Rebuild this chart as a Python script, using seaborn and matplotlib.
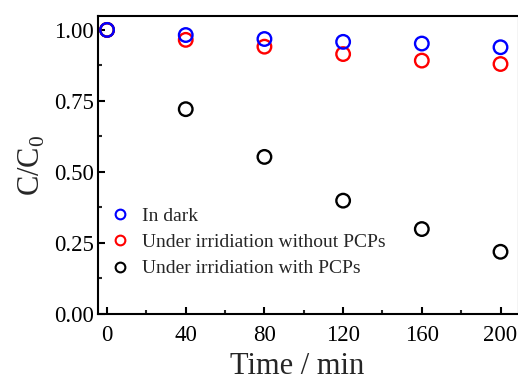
import matplotlib
matplotlib.use("Agg")
import matplotlib.pyplot as plt
import seaborn as sns
import pandas as pd
from matplotlib.ticker import MultipleLocator
from matplotlib.lines import Line2D

time = [0, 40, 80, 120, 160, 200]
dark = [1.00, 0.982, 0.968, 0.958, 0.952, 0.939]
irr_without = [1.00, 0.965, 0.941, 0.915, 0.892, 0.880]
irr_with = [1.00, 0.721, 0.553, 0.399, 0.299, 0.219]
labels = ["In dark", "Under irridiation without PCPs", "Under irridiation with PCPs"]
colors = ["#0000ff", "#ff0000", "#000000"]

df = pd.concat([
    pd.DataFrame({"t": time, "c": irr_with, "s": labels[2]}),
    pd.DataFrame({"t": time, "c": irr_without, "s": labels[1]}),
    pd.DataFrame({"t": time, "c": dark, "s": labels[0]}),
])

sns.set_style("ticks")
plt.rcParams['font.family'] = ['Liberation Serif', 'DejaVu Serif']
plt.rcParams['mathtext.fontset'] = 'custom'
plt.rcParams['mathtext.rm'] = 'Liberation Serif'

fig = plt.figure(figsize=(5.18, 3.81), dpi=100)
ax = fig.add_axes([98/518, 1-314/381, (519-98)/518, (314-16)/381])

sns.scatterplot(data=df, x="t", y="c", hue="s", hue_order=labels[::-1],
                palette=dict(zip(labels, colors)), ax=ax, s=95,
                marker="o", linewidth=1.7, legend=False)
for coll in ax.collections:
    ec = coll.get_facecolors()
    coll.set_edgecolors(ec)
    coll.set_facecolors("none")

ax.set_xlim(-4.6, 209.4)
ax.set_ylim(0, 1.049)
ax.xaxis.set_major_locator(MultipleLocator(40))
ax.xaxis.set_minor_locator(MultipleLocator(20))
ax.yaxis.set_major_locator(MultipleLocator(0.25))
ax.yaxis.set_minor_locator(MultipleLocator(0.125))
ax.yaxis.set_major_formatter(matplotlib.ticker.FormatStrFormatter('%.2f'))
ax.tick_params(which='major', direction='in', length=5, width=1.5, labelsize=16.5,
               top=False, right=False, colors='black', pad=3)
ax.tick_params(axis='x', which='major', pad=8)
ax.tick_params(which='minor', direction='in', length=3, width=1.5, top=False, right=False)
for sp in ax.spines.values():
    sp.set_linewidth(1.5)
    sp.set_color('black')
ax.set_xlabel("Time / min", fontsize=22, va='baseline')
ax.xaxis.set_label_coords(0.474, (314 - 374) / 298)
ax.set_ylabel(r"C/C$_0$", fontsize=22, labelpad=5)

handles = [Line2D([], [], linestyle='none', marker='o', markersize=7,
                  markerfacecolor='none', markeredgecolor=c, markeredgewidth=1.5)
           for c in colors]
ax.legend(handles, labels, loc='upper left', bbox_to_anchor=(0.011, 0.385),
          frameon=False, fontsize=14, handletextpad=0.63, labelspacing=0.45,
          borderaxespad=0.0, handlelength=1.0)

fig.savefig("out.png", dpi=100)
